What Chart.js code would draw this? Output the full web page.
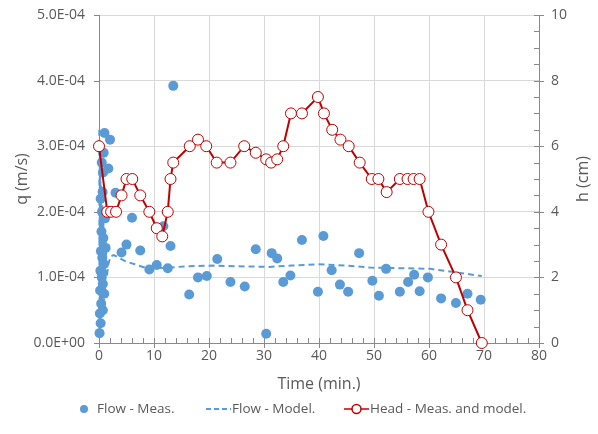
<!DOCTYPE html>
<html>
<head>
<meta charset="utf-8">
<script src="https://cdn.jsdelivr.net/npm/chart.js@4"></script>
<style>
  html, body { margin: 0; padding: 0; background: #fff; }
  #wrap { width: 598px; height: 434px; position: relative; }
</style>
</head>
<body>
<div id="wrap"><canvas id="chart" width="598" height="434"></canvas></div>
<script>
// ---- Data ----
const flowMeasTime = [0.1, 0.15, 0.2, 0.25, 0.3, 0.35, 0.4, 0.45, 0.5, 0.55, 0.6, 0.65, 0.7, 0.75, 0.8, 0.85, 0.9, 1.0, 1.1, 1.2, 0.3, 0.5, 0.7, 0.95,
  1.7, 2.0, 3.0, 4.1, 5.0, 6.0, 7.5, 9.15, 10.5, 11.7, 12.5, 13.0, 13.5, 16.4, 18.0, 19.6, 21.5, 23.9, 26.5, 28.5, 30.4, 31.4, 32.4,
  33.5, 34.8, 36.9, 39.8, 40.8, 42.3, 43.8, 45.3, 47.3, 49.7, 50.9, 52.2, 54.7, 56.2, 57.3, 58.3, 59.8, 62.2, 64.9, 67.0, 69.4];
const flowMeasQ = [0.15, 0.45, 0.8, 1.1, 0.3, 1.4, 0.6, 1.7, 1.0, 2.0, 1.3, 2.3, 0.9, 2.6, 1.6, 2.9, 1.2, 3.2, 1.9, 1.45, 2.2, 2.75, 0.5, 0.75,
  2.66, 3.10, 2.29, 1.38, 1.50, 1.91, 1.41, 1.12, 1.19, 1.78, 1.14, 1.48, 3.92, 0.74, 1.00, 1.02, 1.28, 0.93, 0.86, 1.43, 0.14, 1.37, 1.29,
  0.93, 1.03, 1.57, 0.78, 1.63, 1.11, 0.89, 0.78, 1.37, 0.95, 0.72, 1.13, 0.78, 0.93, 1.04, 0.79, 1.00, 0.68, 0.61, 0.75, 0.66]; // x 1E-4 m/s

const flowModelTime = [0.05, 0.1, 0.15, 0.2, 0.25, 0.3, 0.4, 0.5, 0.6, 0.7, 0.8, 0.9, 1.0, 1.1, 1.2, 1.4, 1.7, 2.1, 2.7, 3.8, 5.0, 6.5, 8.7,
  12.9, 15.9, 20.7, 25.0, 31.0, 35.0, 39.9, 45.0, 49.3, 55.0, 60.2, 63.8, 69.6];
const flowModelQ = [3.25, 0.1, 3.0, 0.2, 2.7, 0.3, 2.4, 0.4, 2.1, 0.5, 1.9, 0.6, 1.7, 0.8, 1.6, 1.0, 1.2, 1.32, 1.34, 1.29, 1.24, 1.20, 1.14,
  1.15, 1.17, 1.18, 1.17, 1.16, 1.18, 1.20, 1.18, 1.15, 1.14, 1.13, 1.09, 1.02]; // x 1E-4 m/s

const headTime = [0, 1.5, 2.2, 3.1, 4.1, 5.0, 6.05, 7.5, 9.15, 10.5, 11.5, 12.5, 13.0, 13.5, 16.5, 18.0, 19.5, 21.4, 23.9, 26.4, 28.5,
  30.4, 31.3, 32.4, 33.5, 34.9, 36.9, 39.8, 40.9, 42.4, 43.9, 45.4, 47.4, 49.6, 50.8, 52.3, 54.7, 56.1, 57.2, 58.3, 59.9, 62.2, 64.9, 67.0, 69.6];
const headH = [6, 4, 4, 4, 4.5, 5, 5, 4.5, 4, 3.5, 3.25, 4, 5, 5.5, 6, 6.2, 6, 5.5, 5.5, 6, 5.8,
  5.6, 5.5, 5.6, 6, 7, 7, 7.5, 7, 6.5, 6.2, 6, 5.5, 5, 5, 4.6, 5, 5, 5, 5, 4, 3, 2, 1, 0];

const xTicks = [0, 10, 20, 30, 40, 50, 60, 70, 80];
const qTicks = [0, 1e-4, 2e-4, 3e-4, 4e-4, 5e-4];
const hTicks = [0, 2, 4, 6, 8, 10];

const legendLabels = ["Flow - Meas.", "Flow - Model.", "Head - Meas. and model."];

const BLUE = "#5B9BD5";
const RED = "#C00000";
const AXIS = "#898989";
const GRID = "#D9D9D9";
const TEXT = "#595959";
const FONT = "'Open Sans', sans-serif";

function toPoints(xs, ys, scale) {
  return xs.map((x, i) => ({ x, y: ys[i] * scale }));
}

function fmtExp(v) {
  const s = v.toExponential(1); // e.g. 3.0e-4
  const [m, e] = s.split("e");
  const sign = e[0] === "-" ? "-" : "+";
  const d = e.replace(/[+-]/, "").padStart(2, "0");
  return `${m}E${sign}${d}`;
}

// keep the plot box fixed: no extra room for half labels
function fixVertical(width) {
  return (s) => { s.width = width; s.paddingTop = 0; s.paddingBottom = 0; };
}

// tick marks, axis titles and legend drawn on top of the library axes
const decorPlugin = {
  id: "decor",
  beforeDatasetsDraw(chart) {
    const { ctx, scales } = chart;
    const x = scales.x, y = scales.y, y2 = scales.y2;
    ctx.save();
    ctx.strokeStyle = AXIS;
    ctx.lineWidth = 1;
    ctx.beginPath();
    for (let t = 0; t <= 80; t += 2) {
      const px = Math.round(x.getPixelForValue(t)) + 0.5;
      const major = t % 10 === 0;
      ctx.moveTo(px, y.bottom - 5);
      ctx.lineTo(px, y.bottom + (major ? 5 : 0));
    }
    qTicks.forEach((v) => {
      const py = Math.round(y.getPixelForValue(v)) + 0.5;
      ctx.moveTo(x.left - 5, py);
      ctx.lineTo(x.left, py);
    });
    for (let h = 0; h <= 10; h += 0.5) {
      const py = Math.round(y2.getPixelForValue(h)) + 0.5;
      const major = h % 2 === 0;
      ctx.moveTo(x.right - 5, py);
      ctx.lineTo(x.right + (major ? 5 : 0), py);
    }
    ctx.stroke();
    ctx.restore();
  },
  afterDraw(chart) {
    const { ctx, scales } = chart;
    const x = scales.x, y = scales.y;
    ctx.save();
    ctx.fillStyle = TEXT;
    ctx.font = `16px ${FONT}`;
    ctx.textAlign = "center";
    ctx.textBaseline = "middle";
    ctx.fillText("Time (min.)", (x.left + x.right) / 2, 384);

    const midY = (y.top + y.bottom) / 2;
    ctx.save();
    ctx.translate(22, midY);
    ctx.rotate(-Math.PI / 2);
    ctx.fillText("q (m/s)", 0, 0);
    ctx.restore();
    ctx.save();
    ctx.translate(583, midY);
    ctx.rotate(-Math.PI / 2);
    ctx.fillText("h (cm)", 0, 0);
    ctx.restore();

    // legend
    const ly = 409;
    ctx.font = `13.5px ${FONT}`;
    ctx.textAlign = "left";
    ctx.fillStyle = BLUE;
    ctx.beginPath();
    ctx.arc(84, ly, 4, 0, Math.PI * 2);
    ctx.fill();
    ctx.fillStyle = TEXT;
    ctx.fillText(legendLabels[0], 97, ly);

    ctx.strokeStyle = BLUE;
    ctx.lineWidth = 2;
    ctx.setLineDash([5, 3]);
    ctx.beginPath();
    ctx.moveTo(206, ly);
    ctx.lineTo(231, ly);
    ctx.stroke();
    ctx.setLineDash([]);
    ctx.fillText(legendLabels[1], 232, ly);

    ctx.strokeStyle = RED;
    ctx.lineWidth = 1.5;
    ctx.beginPath();
    ctx.moveTo(344, ly);
    ctx.lineTo(369, ly);
    ctx.stroke();
    ctx.fillStyle = "#fff";
    ctx.beginPath();
    ctx.arc(356.5, ly, 4.5, 0, Math.PI * 2);
    ctx.fill();
    ctx.stroke();
    ctx.fillStyle = TEXT;
    ctx.fillText(legendLabels[2], 370, ly);
    ctx.restore();
  },
};

const ctx = document.getElementById("chart");
new Chart(ctx, {
  type: "scatter",
  data: {
    datasets: [
      {
        label: legendLabels[2],
        type: "line",
        data: toPoints(headTime, headH, 1),
        yAxisID: "y2",
        borderColor: RED,
        borderWidth: 2,
        pointBackgroundColor: "#fff",
        pointBorderColor: RED,
        pointBorderWidth: 1,
        pointRadius: 5.5,
        tension: 0,
        clip: false,
        order: 1,
      },
      {
        label: legendLabels[0],
        data: toPoints(flowMeasTime, flowMeasQ, 1e-4),
        yAxisID: "y",
        backgroundColor: BLUE,
        borderColor: BLUE,
        pointRadius: 5,
        pointBorderWidth: 0,
        clip: false,
        order: 2,
      },
      {
        label: legendLabels[1],
        type: "line",
        data: toPoints(flowModelTime, flowModelQ, 1e-4),
        yAxisID: "y",
        borderColor: BLUE,
        borderWidth: 2,
        borderDash: [6, 4],
        pointRadius: 0,
        tension: 0,
        clip: false,
        order: 3,
      },
    ],
  },
  options: {
    responsive: false,
    animation: false,
    layout: { padding: { top: 15, left: 0, right: 0, bottom: 0 } },
    plugins: { legend: { display: false }, tooltip: { enabled: false } },
    scales: {
      x: {
        type: "linear",
        min: 0,
        max: 80,
        afterBuildTicks: (s) => { s.ticks = xTicks.map((v) => ({ value: v })); },
        afterFit: (s) => { s.height = 91; s.paddingLeft = 0; s.paddingRight = 0; },
        ticks: { color: TEXT, font: { family: FONT, size: 14 }, padding: 5, maxRotation: 0 },
        grid: { color: GRID, drawTicks: false },
        border: { color: AXIS },
      },
      y: {
        position: "left",
        min: 0,
        max: 5e-4,
        afterBuildTicks: (s) => { s.ticks = qTicks.map((v) => ({ value: v })); },
        afterFit: fixVertical(99),
        ticks: { color: TEXT, font: { family: FONT, size: 14 }, padding: 14, callback: (v) => fmtExp(v) },
        grid: { color: GRID, drawTicks: false },
        border: { color: AXIS },
      },
      y2: {
        position: "right",
        min: 0,
        max: 10,
        afterBuildTicks: (s) => { s.ticks = hTicks.map((v) => ({ value: v })); },
        afterFit: fixVertical(59),
        ticks: { color: TEXT, font: { family: FONT, size: 14 }, padding: 12 },
        grid: { display: false, drawTicks: false },
        border: { color: AXIS },
      },
    },
  },
  plugins: [decorPlugin],
});
</script>
</body>
</html>
